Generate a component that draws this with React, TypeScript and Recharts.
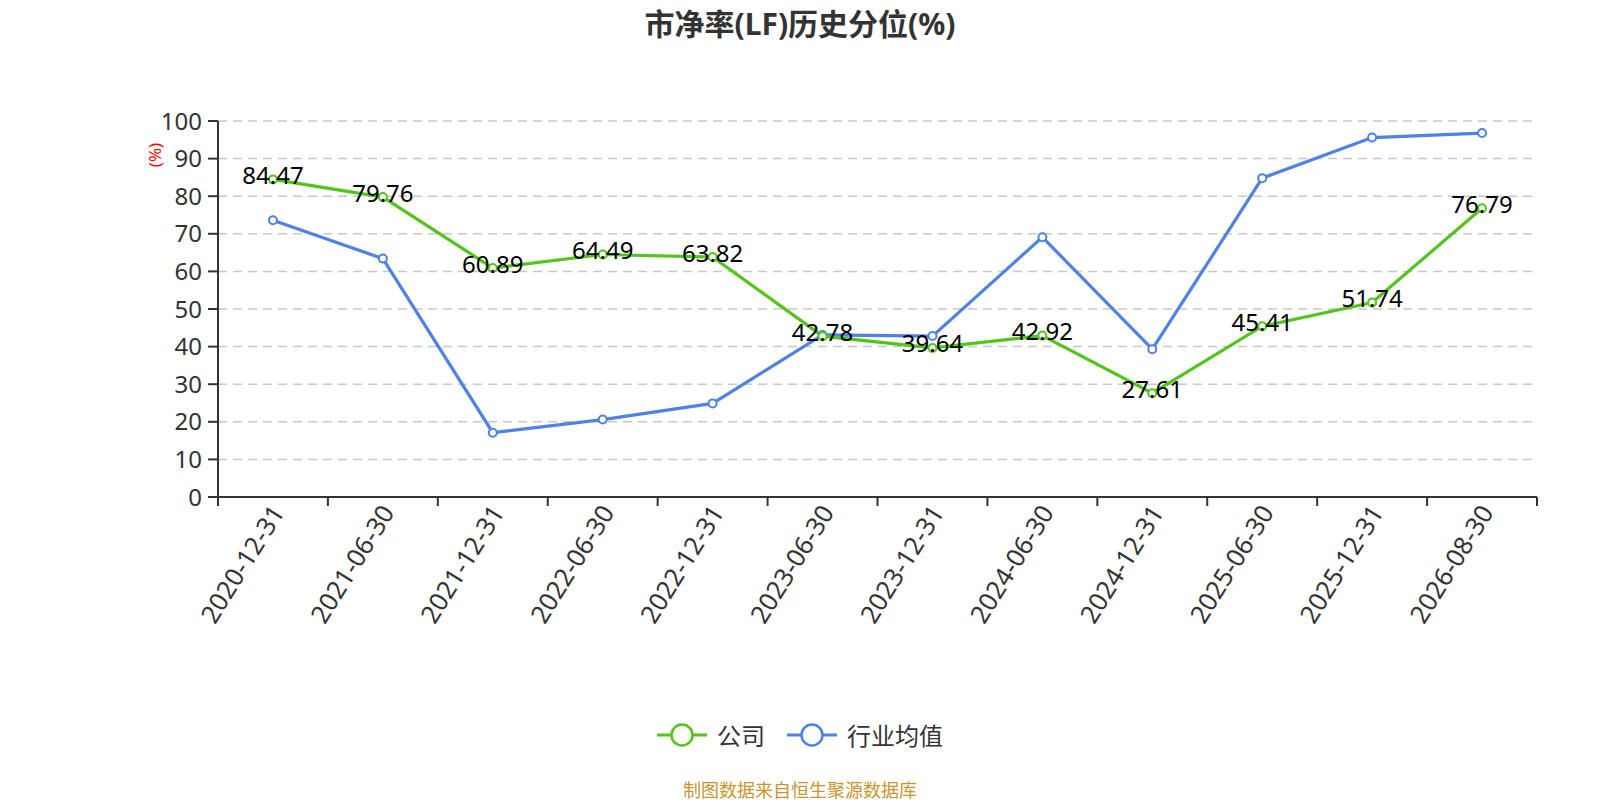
import React from "react";
import { LineChart, Line, XAxis, YAxis, CartesianGrid, LabelList } from "recharts";

const dates = [
  "2020-12-31", "2021-06-30", "2021-12-31", "2022-06-30", "2022-12-31", "2023-06-30",
  "2023-12-31", "2024-06-30", "2024-12-31", "2025-06-30", "2025-12-31", "2026-08-30",
];
const company = [84.47, 79.76, 60.89, 64.49, 63.82, 42.78, 39.64, 42.92, 27.61, 45.41, 51.74, 76.79];
const industry = [73.6, 63.4, 17.1, 20.6, 24.9, 43.1, 42.8, 69.1, 39.3, 84.8, 95.6, 96.8];
const yTicks = [0, 10, 20, 30, 40, 50, 60, 70, 80, 90, 100];

const data = dates.map((d, i) => ({ date: d, company: company[i], industry: industry[i] }));

const W = 1600;
const H = 800;
const margin = { top: 121, right: 63, left: 158, bottom: 0 };
const yAxisWidth = 60;
const plotW = W - margin.left - margin.right - yAxisWidth;
const band = plotW / dates.length;

const GREEN = "#52c41a";
const BLUE = "#4e82e4";
const FONT = "'Noto Sans', 'Noto Sans CJK SC', sans-serif";

function DateTick({ x, y, payload, index }: any) {
  const last = index === dates.length - 1;
  return (
    <g>
      <line x1={x - band / 2} y1={y} x2={x - band / 2} y2={y + 9} stroke="#333" strokeWidth={2} />
      {last && <line x1={x + band / 2} y1={y} x2={x + band / 2} y2={y + 9} stroke="#333" strokeWidth={2} />}
      <text
        x={x + 4}
        y={y + 10}
        transform={`rotate(-58, ${x + 4}, ${y + 10})`}
        textAnchor="end"
        dominantBaseline="central"
        fontSize={25.5}
        fontFamily={FONT}
        fill="#333"
      >
        {payload.value}
      </text>
    </g>
  );
}

function ValueLabel({ x, y, value }: any) {
  return (
    <text x={x} y={y - 5} textAnchor="middle" dominantBaseline="central" fontSize={24} fontFamily={FONT} fill="#000">
      {value}
    </text>
  );
}

function LegendItem({ color, label }: { color: string; label: string }) {
  return (
    <div style={{ display: "flex", alignItems: "center" }}>
      <svg width={50} height={26}>
        <line x1={0} y1={13} x2={50} y2={13} stroke={color} strokeWidth={3} />
        <circle cx={25} cy={13} r={10.5} fill="#fff" stroke={color} strokeWidth={2.5} />
      </svg>
      <span style={{ marginLeft: 10, fontSize: 24, color: "#333" }}>{label}</span>
    </div>
  );
}

export default function App() {
  return (
    <div style={{ position: "absolute", left: 0, top: 0, width: W, height: H, background: "#fff", fontFamily: FONT }}>
      <div style={{ position: "absolute", top: 0, width: W, textAlign: "center", fontSize: 30, fontWeight: 700, color: "#333" }}>
        市净率(LF)历史分位(%)
      </div>
      <LineChart width={W} height={H} data={data} margin={margin}>
        <CartesianGrid vertical={false} stroke="#c8c8c8" strokeDasharray="9 6" strokeWidth={1.5} />
        <XAxis
          dataKey="date"
          scale="band"
          height={H - 497 - margin.bottom}
          interval={0}
          tickLine={false}
          tickSize={0}
          tickMargin={0}
          axisLine={{ stroke: "#333", strokeWidth: 2 }}
          tick={<DateTick />}
        />
        <YAxis
          width={yAxisWidth}
          domain={[0, 100]}
          ticks={yTicks}
          interval={0}
          tickSize={10}
          tickMargin={6}
          axisLine={{ stroke: "#333", strokeWidth: 2 }}
          tickLine={{ stroke: "#333", strokeWidth: 2 }}
          tick={{ fontSize: 24, fill: "#333", fontFamily: FONT }}
        />
        <Line
          dataKey="industry"
          stroke={BLUE}
          strokeWidth={3.2}
          dot={{ r: 4, fill: "#fff", stroke: BLUE, strokeWidth: 2 }}
          isAnimationActive={false}
        />
        <Line
          dataKey="company"
          stroke={GREEN}
          strokeWidth={3.2}
          dot={{ r: 4, fill: "#fff", stroke: GREEN, strokeWidth: 2 }}
          isAnimationActive={false}
        >
          <LabelList dataKey="company" content={<ValueLabel />} />
        </Line>
      </LineChart>
      <div
        style={{
          position: "absolute",
          left: 154,
          top: 155,
          transform: "translate(-50%, -50%) rotate(-90deg)",
          color: "#ff0000",
          fontSize: 17,
        }}
      >
        (%)
      </div>
      <div style={{ position: "absolute", top: 717, width: W, display: "flex", justifyContent: "center", gap: 22 }}>
        <LegendItem color={GREEN} label="公司" />
        <LegendItem color={BLUE} label="行业均值" />
      </div>
      <div style={{ position: "absolute", top: 776, width: W, textAlign: "center", fontSize: 18, color: "#c9952f" }}>
        制图数据来自恒生聚源数据库
      </div>
    </div>
  );
}
